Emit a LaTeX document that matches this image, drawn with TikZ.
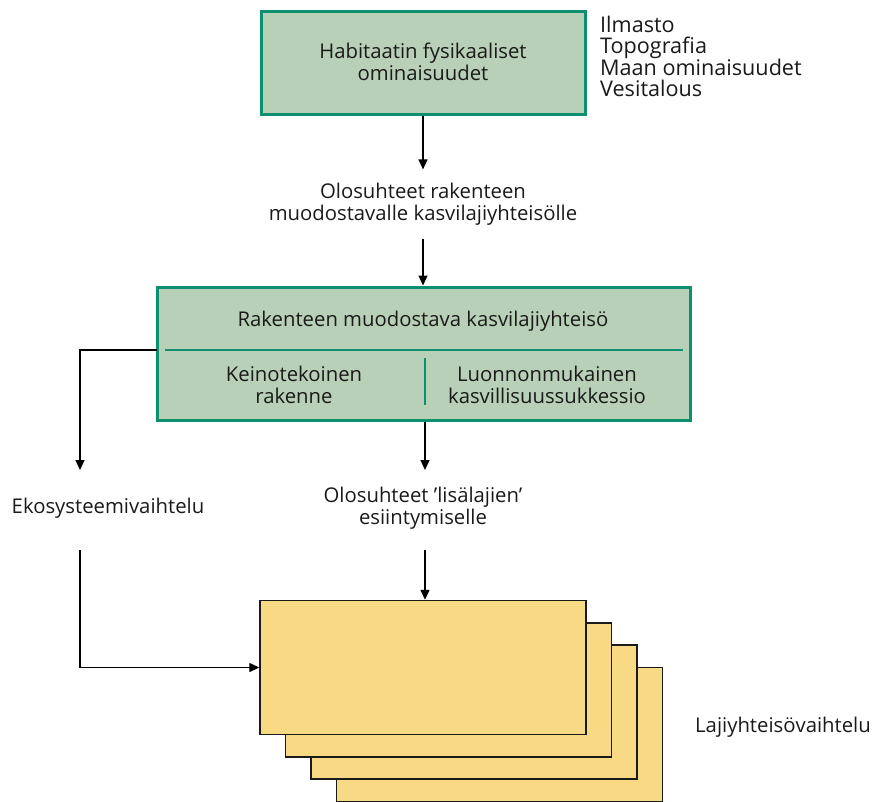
\documentclass[tikz,border=0pt]{standalone}
\usepackage{fontspec}
\setmainfont{Open Sans}
\usepackage{xcolor}
\usetikzlibrary{arrows.meta,calc,positioning}
\definecolor{boxgreen}{HTML}{B8CFB8}
\definecolor{edgegreen}{HTML}{0E9070}
\definecolor{boxyellow}{HTML}{F8DA85}
\definecolor{inkgrey}{HTML}{1A1A1A}

\begin{document}
\begin{tikzpicture}[x=1pt,y=-1pt,
                    font=\fontsize{20.3}{22.5}\selectfont,text=inkgrey,
                    green box/.style={rectangle,draw=edgegreen,fill=boxgreen,line width=3pt,inner sep=0pt},
                    yellow box/.style={rectangle,draw=inkgrey,fill=boxyellow,line width=1.4pt,inner sep=0pt,
                                       minimum width=326pt,minimum height=134pt},
                    text node/.style={align=center,inner xsep=2pt,inner ysep=13pt},
                    flow/.style={-{Triangle[length=10pt,width=9pt]},line width=1.3pt,draw=black}]
\useasboundingbox (0,0) rectangle (877,802);

% top box and the list beside it
\node[green box,minimum width=324pt,minimum height=103pt] (Habitat) at (423,63.5) {};
\node[align=center] (HabitatText) at (423,62) {Habitaatin fysikaaliset\\ominaisuudet};
\node[align=left,anchor=north west,inner sep=0pt,font=\fontsize{21.6}{20.5}\selectfont] (Factors) at (600,16) {Ilmasto\\Topografia\\Maan ominaisuudet\\Vesitalous};

\node[text node] (Olo1) at (423,204) {Olosuhteet rakenteen\\muodostavalle kasvilajiyhteisölle};

% middle box
\node[green box,minimum width=533pt,minimum height=133pt] (Rakenne) at (423.5,353.5) {};
\node (RakenneText) at (423,321) {Rakenteen muodostava kasvilajiyhteisö};
\coordinate (SplitL) at (165,350);
\coordinate (SplitR) at (683,350);
\coordinate (DivTop) at (425,358);
\coordinate (DivBot) at (425,405);
\draw[edgegreen,line width=1.3pt] (SplitL) -- (SplitR);
\draw[edgegreen,line width=1.3pt] (DivTop) -- (DivBot);
\node[align=center] (Keino) at (294,385) {Keinotekoinen\\rakenne};
\node[align=center] (Luonto) at (547,385) {Luonnonmukainen\\kasvillisuussukkessio};

\node[text node,inner ysep=20pt] (Olo2) at (423,508) {Olosuhteet ’lisälajien’\\esiintymiselle};
\node[inner sep=0pt] (Eko) at (108,508) {Ekosysteemivaihtelu};

% stacked species boxes, back one first
\foreach \i in {3,2,1,0}
   {\node[yellow box] (Laji\i) at (423+25.4*\i,667.5+22.3*\i) {};}
\node[inner sep=0pt] (LajiText) at (783,727) {Lajiyhteisövaihtelu};

% connectors
\coordinate (BranchStart) at (157,350);
\coordinate (BranchCorner) at (80,350);
\coordinate (EkoIn) at (80,470);
\coordinate (EkoOut) at (80,550);
\coordinate (OloIn) at (425,470);
\draw[flow] (Habitat.south) -- (Olo1.north);
\draw[flow] (Olo1.south) -- (Olo1.south |- Rakenne.north);
\draw[flow] (Rakenne.south -| DivBot) -- (OloIn);
\draw[flow] (Olo2.south -| DivBot) -- (Laji0.north -| DivBot);
\draw[flow] (BranchStart) -- (BranchCorner) -- (EkoIn);
\draw[flow] (EkoOut) -- (EkoOut |- Laji0.west) -- (Laji0.west);
\end{tikzpicture}
\end{document}
